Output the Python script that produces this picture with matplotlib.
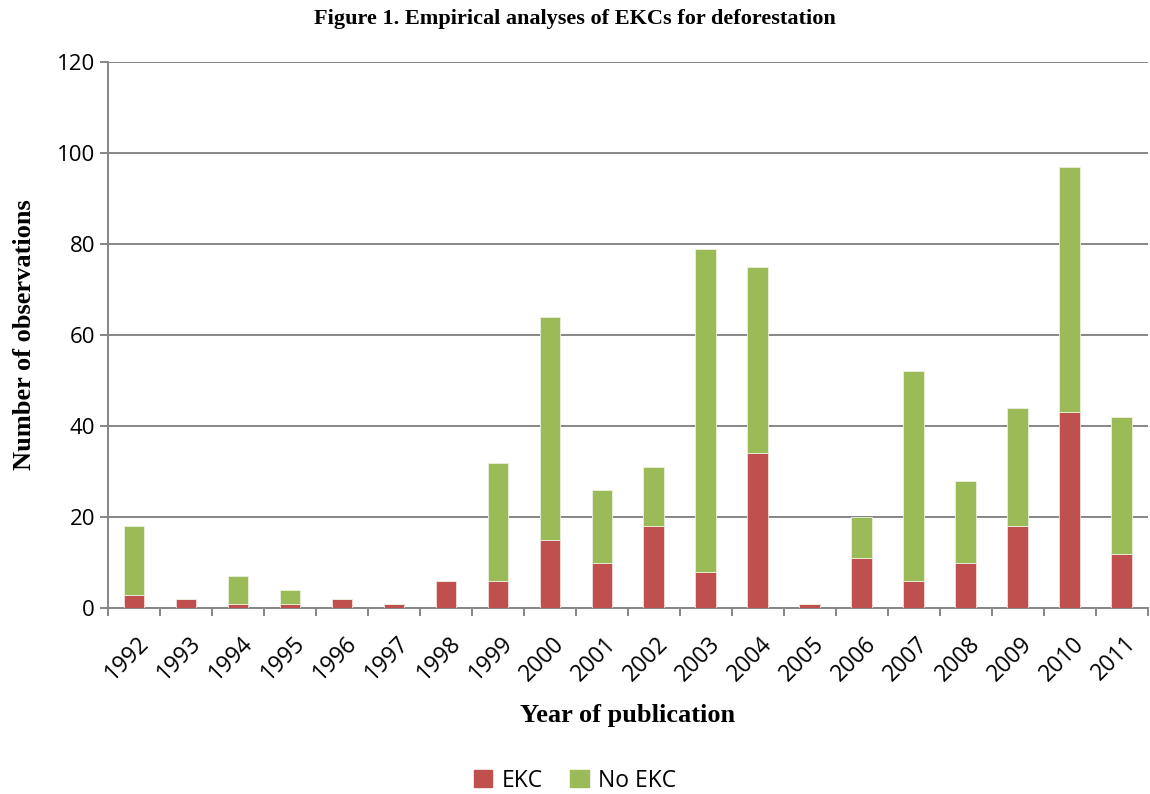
import numpy as np
import matplotlib.pyplot as plt
from matplotlib.patches import Patch

years = [str(y) for y in range(1992, 2012)]
ekc = [3, 2, 1, 1, 2, 1, 6, 6, 15, 10, 18, 8, 34, 1, 11, 6, 10, 18, 43, 12]
no_ekc = [15, 0, 6, 3, 0, 0, 0, 26, 49, 16, 13, 71, 41, 0, 9, 46, 18, 26, 54, 30]

red = "#C0504D"
green = "#9BBB59"
grid_col = "#868686"

fig = plt.figure(figsize=(11.5, 7.94), dpi=100)
ax = fig.add_axes([0.094, 0.234, 0.904, 0.688])

x = np.arange(len(years))
ax.bar(x, ekc, width=0.4, color=red, edgecolor="#f2dcdb", linewidth=0.6, zorder=3)
ax.bar(x, no_ekc, width=0.4, bottom=ekc, color=green, edgecolor="#ebf1de", linewidth=0.6, zorder=3)

ax.set_xlim(-0.5, len(years) - 0.5)
ax.set_ylim(0, 120)
ax.set_yticks(range(0, 121, 20))
ax.yaxis.grid(True, color=grid_col, linewidth=1.4, zorder=0)
ax.set_axisbelow(True)

# year labels sit a bit below the axis, right end under the bar
ax.set_xticks(x + 0.05)
ax.set_xticklabels(years, rotation=45, fontsize=16.5, family="Open Sans",
                   ha="right", va="top", rotation_mode="anchor")
ax.set_xticks(np.arange(-0.5, len(years), 1), minor=True)
ax.tick_params(axis="x", which="major", length=0, pad=17)
ax.tick_params(axis="x", which="minor", length=6, width=1.4, color=grid_col, direction="out")
ax.tick_params(axis="y", length=6, width=1.4, color=grid_col, labelsize=16)
for lab in ax.get_yticklabels():
    lab.set_family("Open Sans")

for s in ["top", "right"]:
    ax.spines[s].set_visible(False)
for s in ["left", "bottom"]:
    ax.spines[s].set_color(grid_col)
    ax.spines[s].set_linewidth(1.4)

ax.set_xlabel("Year of publication", fontsize=19, fontweight="bold", family="Liberation Serif", labelpad=13)
ax.set_ylabel("Number of observations", fontsize=19, fontweight="bold", family="Liberation Serif", labelpad=15)
fig.text(0.5, 0.976, "Figure 1. Empirical analyses of EKCs for deforestation",
         ha="center", va="center", fontsize=16, fontweight="bold", family="Liberation Serif")

handles = [Patch(color=red, label="EKC"), Patch(color=green, label="No EKC")]
fig.legend(handles=handles, loc="center", bbox_to_anchor=(0.5, 0.017), ncol=2, frameon=False,
           prop={"family": "Open Sans", "size": 16.5}, handlelength=0.8, handleheight=0.8,
           columnspacing=1.2, handletextpad=0.4)

fig.savefig("out.png", dpi=100)
